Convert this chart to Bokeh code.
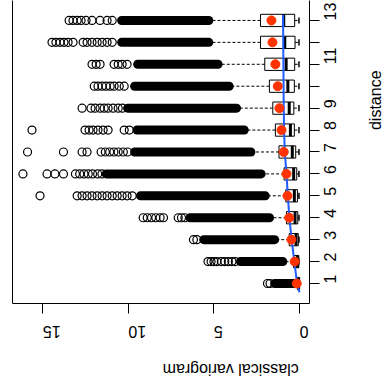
import math
from bokeh.plotting import figure
from bokeh.models import ColumnDataSource, Range1d, LinearAxis, FixedTicker
from bokeh.embed import file_html
from bokeh.resources import INLINE

# ---------------- data ----------------
distance = [1, 2, 3, 4, 5, 6, 7, 8, 9, 10, 11, 12, 13]
q1 = [0.02, 0.04, 0.07, 0.10, 0.12, 0.16, 0.22, 0.30, 0.33, 0.30, 0.28, 0.26, 0.28]
median = [0.05, 0.12, 0.20, 0.26, 0.30, 0.34, 0.42, 0.53, 0.60, 0.68, 0.78, 0.86, 0.92]
q3 = [0.12, 0.35, 0.60, 0.76, 0.80, 0.90, 1.20, 1.41, 1.56, 1.76, 2.03, 2.28, 2.28]
whisker_lo = [0.03, 0.03, 0.03, 0.03, 0.03, 0.03, 0.03, 0.03, 0.03, 0.03, 0.03, 0.03, 0.03]
whisker_hi = [0.30, 0.92, 1.40, 1.70, 1.95, 2.18, 2.78, 3.15, 3.60, 4.05, 4.70, 5.20, 5.20]
mean = [0.16, 0.28, 0.47, 0.60, 0.70, 0.76, 0.92, 1.05, 1.17, 1.27, 1.41, 1.58, 1.64]
# dense (overplotted) runs of outliers
dense_lo = [0.32, 0.97, 1.45, 1.75, 2.00, 2.24, 2.84, 3.23, 3.68, 4.11, 4.76, 5.30, 5.30]
dense_hi = [1.45, 3.45, 5.60, 6.40, 9.30, 11.30, 9.64, 9.50, 10.05, 9.64, 9.46, 10.40, 10.40]
# separately visible outliers
sparse_outliers = [
    [1.87, 1.72],
    [5.35, 5.17, 5.00, 4.83, 4.57, 4.37, 4.16, 3.95, 3.75],
    [6.20, 6.00],
    [9.14, 8.90, 8.65, 8.40, 8.15, 7.95, 7.09, 6.90, 6.70],
    [15.17, 13.00, 12.71, 12.42, 12.13, 11.83, 11.54, 11.25, 10.95, 10.66, 10.37, 10.08, 9.78],
    [16.17, 14.76, 14.30, 13.80, 13.10, 12.85, 12.60, 12.35, 12.10, 11.80, 11.55],
    [15.90, 13.80, 12.71, 12.42, 11.60, 11.35, 11.10, 10.85, 10.60, 10.30, 10.05],
    [15.64, 12.54, 12.30, 12.07, 11.78, 11.48, 11.19, 10.25, 9.95],
    [12.71, 12.19, 11.95, 11.66, 11.42, 11.19, 10.90, 10.60, 10.35],
    [12.00, 11.78, 11.54, 11.31, 11.07, 10.84, 10.54, 10.25],
    [12.13, 11.89, 11.66, 10.84, 10.60, 10.37, 10.08],
    [14.47, 14.24, 14.00, 13.77, 13.53, 13.24, 12.65, 12.42, 12.13, 11.83, 11.54, 11.25, 10.95],
    [13.47, 13.24, 13.00, 12.77, 12.48, 12.13, 11.66, 11.25, 10.95],
]
# fitted variogram model (blue curve)
model_dist = [0.6, 1, 2, 3, 4, 5, 6, 7, 8, 9, 10, 11, 12, 13, 13.25]
model_gamma = [0.0, 0.14, 0.30, 0.46, 0.59, 0.68, 0.76, 0.86, 0.90, 0.92, 0.93, 0.94, 0.95, 0.955, 0.955]

x_ticks = [0, 5, 10, 15]
y_ticks = distance
hidden_y_labels = {10: "", 12: ""}
x_label = "classical variogram"
y_label = "distance"
x_label_at = 8     # axis titles are centred here
y_label_at = 8

FONT = "Arial"
BOX_H = 0.56
STAPLE_H = 0.28

# ---------------- figure ----------------
x0, x1 = 16.78, -0.586
y0, y1 = 0.088, 13.91
p = figure(frame_width=297, frame_height=303, output_backend="svg", toolbar_location=None,
           x_range=Range1d(x0, x1), y_range=Range1d(y0, y1),
           x_axis_location="below", y_axis_location="right",
           min_border_left=12, min_border_right=75, min_border_top=0, min_border_bottom=86)
p.outline_line_color = None
p.xgrid.visible = False
p.ygrid.visible = False
p.background_fill_color = "white"
p.border_fill_color = "white"

src = ColumnDataSource(dict(
    d=distance, q1=q1, med=median, q3=q3, wlo=whisker_lo, whi=whisker_hi, mean=mean,
    dlo=dense_lo, dhi=dense_hi,
    bot=[v - BOX_H / 2 for v in distance], top=[v + BOX_H / 2 for v in distance],
    sbot=[v - STAPLE_H / 2 for v in distance], stop=[v + STAPLE_H / 2 for v in distance],
))

# whiskers
p.segment(x0="q3", y0="d", x1="whi", y1="d", source=src, line_color="black", line_width=1, line_dash="3 2")
p.segment(x0="q1", y0="d", x1="wlo", y1="d", source=src, line_color="black", line_width=1, line_dash="3 2")
# staples
p.segment(x0="whi", y0="sbot", x1="whi", y1="stop", source=src, line_color="black", line_width=1.5)
p.segment(x0="wlo", y0="sbot", x1="wlo", y1="stop", source=src, line_color="black", line_width=1.5)
# boxes
p.hbar(y="d", left="q1", right="q3", height=BOX_H, source=src, fill_color=None,
       line_color="black", line_width=1)
# medians
p.segment(x0="med", y0="bot", x1="med", y1="top", source=src, line_color="black", line_width=3)
# dense outlier runs
p.segment(x0="dlo", y0="d", x1="dhi", y1="d", source=src, line_color="black", line_width=9,
          line_cap="round")
# sparse outliers
ox, oy = [], []
for d, vals in zip(distance, sparse_outliers):
    ox.extend(vals)
    oy.extend([d] * len(vals))
p.scatter(ox, oy, marker="circle", size=8, fill_color=None, line_color="black", line_width=1.2)

# model curve and means
p.line(model_gamma, model_dist, line_color="#1F5BFF", line_width=2)
p.scatter(x="mean", y="d", source=src, marker="circle", size=9, fill_color="#FF3300",
          line_color="#FF3300")

# axes
xa = p.xaxis[0]
xa.ticker = FixedTicker(ticks=x_ticks)
ya = p.yaxis[0]
ya.ticker = FixedTicker(ticks=y_ticks)
ya.major_label_overrides = hidden_y_labels
for ax in (xa, ya):
    ax.major_tick_out = 10
    ax.major_tick_in = 0
    ax.minor_tick_line_color = None
    ax.axis_line_color = "black"
    ax.major_tick_line_color = "black"
    ax.major_label_text_font = FONT
    ax.major_label_text_font_size = "16px"
    ax.major_label_text_color = "black"
xa.major_label_standoff = 18
ya.major_label_standoff = 11
xa.major_label_orientation = math.pi
ya.major_label_orientation = math.pi / 2

# left frame edge
la = LinearAxis(ticker=FixedTicker(ticks=[]), major_tick_out=0, major_tick_in=0,
                minor_tick_line_color=None, axis_line_color="black")
p.add_layout(la, "left")


def title_axis(at, text, orientation, standoff):
    ax = LinearAxis(ticker=FixedTicker(ticks=[at]), major_label_overrides={at: text},
                    major_tick_out=0, major_tick_in=0, major_tick_line_color=None,
                    minor_tick_line_color=None, axis_line_color=None,
                    major_label_text_font=FONT, major_label_text_font_size="16px",
                    major_label_text_color="black", major_label_orientation=orientation,
                    major_label_standoff=standoff)
    return ax


p.add_layout(title_axis(x_label_at, x_label, math.pi, 23), "below")
p.add_layout(title_axis(y_label_at, y_label, math.pi / 2, 30), "right")

open("out.html", "w").write(file_html(p, INLINE))
